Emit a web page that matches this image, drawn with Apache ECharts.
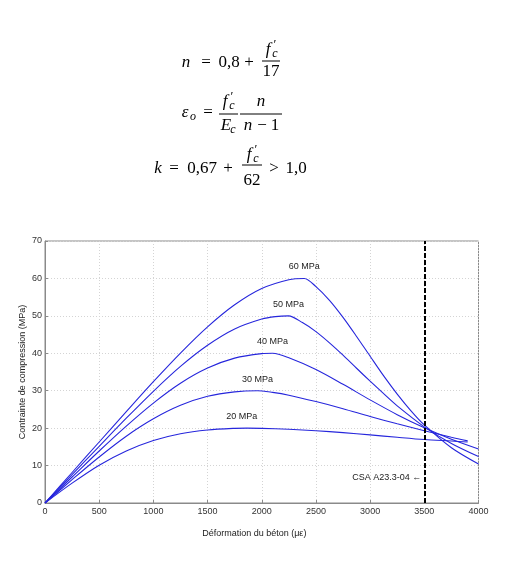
<!DOCTYPE html>
<html>
<head>
<meta charset="utf-8">
<script src="https://cdn.jsdelivr.net/npm/echarts@6/dist/echarts.min.js"></script>
<style>
  html, body { margin: 0; padding: 0; background: #fff; }
  #chart { width: 532px; height: 561px; }
</style>
</head>
<body>
<div id="chart"></div>
<script>
// values (strain in µε, stress in MPa)
var curveNames = ['20 MPa', '30 MPa', '40 MPa', '50 MPa', '60 MPa'];

var strain20 = [0, 250, 500, 750, 1000, 1250, 1500, 1750, 1862, 2000, 2250, 2500, 2750, 3000, 3250, 3500, 3750, 3900];
var stress20 = [0, 5.3, 10.1, 13.9, 16.7, 18.5, 19.5, 19.95, 20, 19.95, 19.7, 19.3, 18.8, 18.2, 17.55, 16.95, 16.55, 16.3];

var strain30 = [0, 250, 500, 750, 1000, 1250, 1500, 1750, 1960, 2100, 2250, 2500, 2750, 3000, 3250, 3500, 3750, 3900];
var stress30 = [0, 6.25, 12.3, 17.85, 22.5, 26.1, 28.5, 29.7, 30, 29.55, 28.8, 27.1, 25.2, 23.1, 21.15, 19.3, 17.55, 16.6];

var strain40 = [0, 250, 500, 750, 1000, 1250, 1500, 1750, 2000, 2100, 2250, 2500, 2750, 3000, 3250, 3500, 3750, 4000];
var stress40 = [0, 6.95, 13.9, 20.55, 26.7, 32.0, 36.05, 38.7, 39.9, 40, 38.8, 35.65, 31.7, 27.55, 23.6, 20.1, 17.05, 14.45];

var strain50 = [0, 250, 500, 750, 1000, 1250, 1500, 1750, 2000, 2125, 2247, 2375, 2500, 2625, 2750, 2875, 3000, 3125, 3250, 3500, 3750, 4000];
var stress50 = [0, 7.6, 15.15, 22.65, 29.85, 36.5, 42.15, 46.5, 49.15, 49.8, 50, 48.2, 45.8, 42.8, 39.5, 36.0, 32.55, 29.2, 25.95, 20.35, 15.9, 12.4];

var strain60 = [0, 250, 500, 750, 1000, 1250, 1500, 1750, 2000, 2250, 2392, 2500, 2625, 2750, 2875, 3000, 3125, 3250, 3375, 3500, 3750, 4000];
var stress60 = [0, 8.15, 16.3, 24.4, 32.4, 40.05, 47.05, 52.95, 57.3, 59.65, 60, 57.8, 54.15, 49.6, 44.5, 39.2, 33.95, 29.1, 24.7, 20.85, 14.75, 10.4];

var codeLimit = 3500;          // CSA A23.3-04 limit
var codeLabelStress = 6.7;

var strains = [strain20, strain30, strain40, strain50, strain60];
var stresses = [stress20, stress30, stress40, stress50, stress60];
var labelOffsets = [[-5, 0], [0, 0], [0, 0], [0, 0], [0, 0]];

var myChart = echarts.init(document.getElementById('chart'));

var lineColor = '#2626dc';
var serif = 'Liberation Serif';

// f'c written as pieces of text
function fc(cx, cy) {
  return [
    { type: 'text', x: cx - 3, y: cy, style: { text: 'f', font: 'italic 17px ' + serif, fill: '#000', align: 'center', verticalAlign: 'middle' } },
    { type: 'text', x: cx + 4, y: cy - 5, style: { text: '\u2032', font: '13px ' + serif, fill: '#000', align: 'center', verticalAlign: 'middle' } },
    { type: 'text', x: cx + 4, y: cy + 4, style: { text: 'c', font: 'italic 12px ' + serif, fill: '#000', align: 'center', verticalAlign: 'middle' } }
  ];
}
function tok(str, cx, cy, italic, size) {
  return { type: 'text', x: cx, y: cy, style: { text: str, font: (italic ? 'italic ' : '') + (size || 17) + 'px ' + serif, fill: '#000', align: 'center', verticalAlign: 'middle' } };
}
function bar(x1, x2, y) {
  return { type: 'line', shape: { x1: x1, y1: y, x2: x2, y2: y }, style: { stroke: '#000', lineWidth: 1 } };
}

var formulas = [].concat(
  // n = 0,8 + f'c / 17
  [tok('n', 186, 63, true), tok('=', 206, 63), tok('0,8', 229, 63), tok('+', 249, 63)],
  fc(271, 50), [bar(262, 280, 61), tok('17', 271, 72)],
  // eps_o = f'c/Ec * n/(n-1)
  [tok('\u03b5', 185, 113, true), tok('o', 193, 117, true, 12), tok('=', 208, 113)],
  fc(228, 102), [bar(219, 238, 114), tok('E', 226, 126, true), tok('c', 233, 130, true, 12)],
  [tok('n', 261, 102, true), bar(240, 282, 114), tok('n', 248, 126, true), tok('\u2212', 262, 126), tok('1', 275, 126)],
  // k = 0,67 + f'c/62 > 1,0
  [tok('k', 158, 169, true), tok('=', 174, 169), tok('0,67', 202, 169), tok('+', 228, 169)],
  fc(252, 155), [bar(242, 262, 165), tok('62', 252, 181)],
  [tok('>', 274, 169), tok('1,0', 296, 169)]
);

var series = curveNames.map(function (name, i) {
  var xs = strains[i], ys = stresses[i];
  var peak = ys.indexOf(Math.max.apply(null, ys));
  return {
    name: name,
    type: 'line',
    data: xs.map(function (x, j) { return [x, ys[j]]; }),
    showSymbol: false,
    symbol: 'none',
    smooth: 0.3,
    lineStyle: { color: lineColor, width: 1.1 },
    itemStyle: { color: lineColor },
    emphasis: { disabled: true },
    silent: true,
    // curve name written above its peak
    markPoint: {
      silent: true,
      symbol: 'circle',
      symbolSize: 0,
      label: { show: true, position: 'top', distance: 7, offset: labelOffsets[i], formatter: name, fontSize: 9, color: '#222', fontFamily: 'Liberation Sans' },
      data: [{ coord: [xs[peak], ys[peak]] }]
    }
  };
});

// dashed code limit line and its label
series.push({
  name: 'CSA',
  type: 'line',
  data: [],
  silent: true,
  markLine: {
    silent: true,
    symbol: 'none',
    label: { show: false },
    lineStyle: { color: '#000', width: 2, type: [5, 2] },
    data: [{ xAxis: codeLimit }]
  },
  markPoint: {
    silent: true,
    symbol: 'circle',
    symbolSize: 0,
    label: { show: true, position: 'left', distance: 3, formatter: 'CSA A23.3-04 \u2190', fontSize: 9, color: '#222', fontFamily: 'Liberation Sans' },
    data: [{ coord: [codeLimit, codeLabelStress] }]
  }
});

option = {
  backgroundColor: '#fff',
  animation: false,
  textStyle: { fontFamily: 'Liberation Sans' },
  graphic: formulas,
  grid: {
    left: 45, right: 53.5, top: 241, bottom: 58,
    show: true, borderColor: '#8a8a8a', borderWidth: 1
  },
  xAxis: {
    type: 'value',
    min: 0, max: 4000, interval: 500,
    name: 'D\u00e9formation du b\u00e9ton (\u03bc\u03b5)',
    nameLocation: 'middle',
    nameGap: 26,
    nameMoveOverlap: false,
    nameTextStyle: { fontSize: 9, color: '#222', padding: [0, 15, 0, 0] },
    axisLine: { show: true, lineStyle: { color: '#8a8a8a' } },
    axisTick: { show: true, inside: true, length: 3, lineStyle: { color: '#8a8a8a' } },
    axisLabel: { fontSize: 9, color: '#333', margin: 4, formatter: function (v) { return String(v); } },
    splitLine: { show: true, lineStyle: { color: '#d4d4d4', type: [1, 2] } }
  },
  yAxis: {
    type: 'value',
    min: 0, max: 70, interval: 10,
    name: 'Contrainte de compression (MPa)',
    nameLocation: 'middle',
    nameGap: 18,
    nameMoveOverlap: false,
    nameTextStyle: { fontSize: 9, color: '#222' },
    axisLine: { show: true, lineStyle: { color: '#8a8a8a' } },
    axisTick: { show: true, inside: true, length: 3, lineStyle: { color: '#8a8a8a' } },
    axisLabel: { fontSize: 9, color: '#333', margin: 3 },
    splitLine: { show: true, lineStyle: { color: '#d4d4d4', type: [1, 2] } }
  },
  series: series
};

myChart.setOption(option);
</script>
</body>
</html>
